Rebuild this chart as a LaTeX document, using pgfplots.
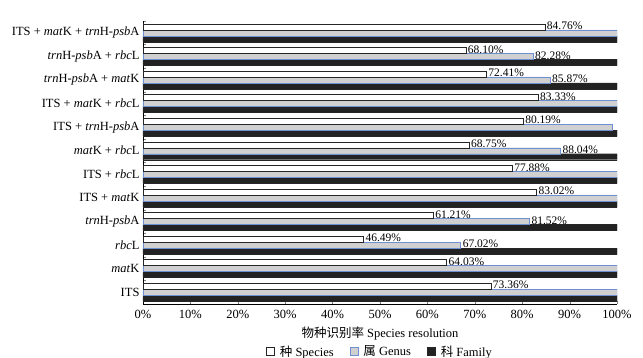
\documentclass[border=0pt]{standalone}
\usepackage{pgfplots}
\pgfplotsset{compat=1.18}
\usepackage{fontspec}
\setmainfont{Liberation Serif}
\newfontfamily\cjk{Noto Sans CJK SC}
\definecolor{genusfill}{HTML}{D0D0D0}
\definecolor{genusedge}{HTML}{6F8FD3}
\definecolor{famfill}{HTML}{222222}
\begin{document}
\begin{tikzpicture}
\begin{axis}[
  scale only axis, width=474pt, height=283pt,
  xbar=0pt, bar width=6pt,
  xmin=0, xmax=100, ymin=-0.5, ymax=11.5,
  axis x line*=bottom, axis y line*=left,
  axis line style={line width=0.9pt},
  /pgf/number format/assume math mode=true,
  tick label style={font=\fontsize{12.5}{14}\selectfont},
  xtick={0,10,...,100},
  xticklabel={\pgfmathprintnumber{\tick}\%},
  tick align=inside,
  x tick label style={yshift=-3pt},
  ytick={-0.5,0.5,...,11.5},
  yticklabels={},
  major tick length=3pt,
  extra y ticks={0,...,11},
  extra y tick style={major tick length=0pt},
  extra y tick labels={ITS, \textit{mat}K, \textit{rbc}L, \textit{trn}H-\textit{psb}A, ITS + \textit{mat}K, ITS + \textit{rbc}L, \textit{mat}K + \textit{rbc}L, ITS + \textit{trn}H-\textit{psb}A, ITS + \textit{mat}K + \textit{rbc}L, \textit{trn}H-\textit{psb}A + \textit{mat}K, \textit{trn}H-\textit{psb}A + \textit{rbc}L, ITS + \textit{mat}K + \textit{trn}H-\textit{psb}A},
  xlabel={{\cjk 物种识别率} Species resolution},
  xlabel style={font=\fontsize{12.5}{14}\selectfont, yshift=-1pt},
  legend columns=3, reverse legend,
  legend image code/.code={\draw[#1, line width=0.8pt] (0pt,-3.5pt) rectangle (8pt,4pt);},
  legend style={draw=none, at={(0.5,-0.132)}, anchor=north, font=\fontsize{12.5}{14}\selectfont,
    /tikz/every odd column/.append style={column sep=3pt},
    /tikz/every even column/.append style={column sep=14pt}},
  every node near coord/.append style={anchor=west, font=\fontsize{11.5}{13}\selectfont, inner sep=2pt, yshift=1pt},
]
\addplot[draw=black!85, fill=famfill] coordinates {
(100,0) (100,1) (100,2) (100,3) (100,4) (100,5) (100,6) (100,7) (100,8) (100,9) (100,10) (100,11)};
\addlegendentry{{\cjk 科} Family}
\addplot[draw=genusedge, fill=genusfill, point meta=explicit symbolic,
  nodes near coords={\pgfplotspointmeta}] coordinates {
(100,0) [{}] (100,1) [{}] (67.02,2) [67.02\%] (81.52,3) [81.52\%] (100,4) [{}] (100,5) [{}]
(88.04,6) [88.04\%] (99,7) [{}] (100,8) [{}] (85.87,9) [85.87\%] (82.28,10) [82.28\%] (100,11) [{}]};
\addlegendentry{{\cjk 属} Genus}
\addplot[draw=black!85, fill=white, point meta=explicit symbolic,
  nodes near coords={\pgfplotspointmeta}] coordinates {
(73.36,0) [73.36\%] (64.03,1) [64.03\%] (46.49,2) [46.49\%] (61.21,3) [61.21\%] (83.02,4) [83.02\%] (77.88,5) [77.88\%]
(68.75,6) [68.75\%] (80.19,7) [80.19\%] (83.33,8) [83.33\%] (72.41,9) [72.41\%] (68.10,10) [68.10\%] (84.76,11) [84.76\%]};
\addlegendentry{{\cjk 种} Species}
\end{axis}
\pgfresetboundingbox
\path (-143pt,-54pt) rectangle (500pt,304pt);
\end{tikzpicture}
\end{document}
